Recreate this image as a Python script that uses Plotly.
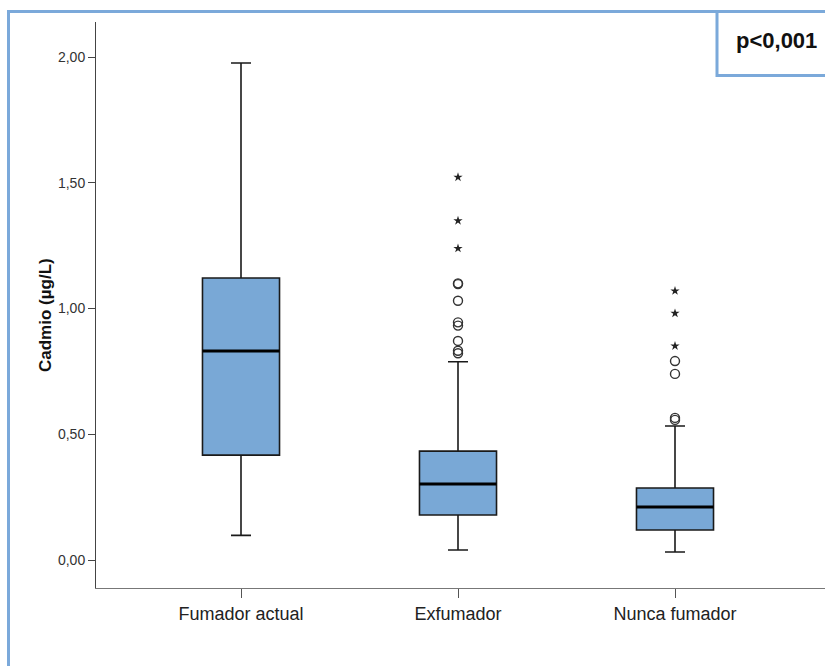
import plotly.graph_objects as go

# ---- data ----
categories = ["Fumador actual", "Exfumador", "Nunca fumador"]
q1 = [0.417, 0.179, 0.119]
median = [0.831, 0.302, 0.211]
q3 = [1.121, 0.433, 0.286]
lower_whisker = [0.098, 0.040, 0.032]
upper_whisker = [1.976, 0.788, 0.533]

circle_outliers = {
    "Exfumador": [1.100, 1.097, 1.031, 0.945, 0.932, 0.871, 0.832, 0.822],
    "Nunca fumador": [0.791, 0.740, 0.565, 0.557],
}
star_outliers = {
    "Exfumador": [1.522, 1.349, 1.239],
    "Nunca fumador": [1.070, 0.981, 0.851],
}
y_ticks = [0.0, 0.5, 1.0, 1.5, 2.0]
p_label = "p<0,001"
y_title = "Cadmio (µg/L)"

# ---- layout geometry ----
W, H = 825, 666
ML, MR, MT, MB = 96, 0, 22, 78
PW, PH = W - ML - MR, H - MT - MB
BOX_W = 0.355
FONT = "Liberation Sans, Arial, sans-serif"
BLUE = "#7ba9da"
FILL = "#79a8d6"


def px(xp):
    return (xp - ML) / PW


def py(yp):
    return (H - MB - yp) / PH


fig = go.Figure()
pos = {c: i for i, c in enumerate(categories)}

for i, c in enumerate(categories):
    fig.add_trace(go.Box(
        x=[i], q1=[q1[i]], median=[median[i]], q3=[q3[i]],
        lowerfence=[lower_whisker[i]], upperfence=[upper_whisker[i]],
        width=BOX_W, whiskerwidth=0.26, boxpoints=False,
        fillcolor=FILL, line=dict(color="#1a1a1a", width=1.6),
        showlegend=False, hoverinfo="skip",
    ))
    # thick median line
    fig.add_trace(go.Scatter(
        x=[i - BOX_W / 2, i + BOX_W / 2], y=[median[i], median[i]],
        mode="lines", line=dict(color="#000000", width=3),
        showlegend=False, hoverinfo="skip",
    ))

for c, vals in circle_outliers.items():
    fig.add_trace(go.Scatter(
        x=[pos[c]] * len(vals), y=vals, mode="markers",
        marker=dict(symbol="circle-open", size=9, color="#333333",
                    line=dict(width=1.4, color="#333333")),
        showlegend=False, hoverinfo="skip",
    ))
for c, vals in star_outliers.items():
    fig.add_trace(go.Scatter(
        x=[pos[c]] * len(vals), y=vals, mode="markers",
        marker=dict(symbol="star", size=7, color="#222222",
                    line=dict(width=0)),
        showlegend=False, hoverinfo="skip",
    ))

x0 = -(241 - ML) / 217
x1 = x0 + PW / 217
y0 = -(588 - 560) / 251.5
y1 = (560 - 22) / 251.5

fig.update_layout(
    width=W, height=H,
    margin=dict(l=ML, r=MR, t=MT, b=MB, pad=0),
    paper_bgcolor="white", plot_bgcolor="white",
    separators=",.",
    font=dict(family=FONT, color="#222222"),
    xaxis=dict(
        range=[x0, x1], tickvals=list(range(len(categories))),
        ticktext=categories, showgrid=False, zeroline=False,
        showline=True, linecolor="#777777", linewidth=1,
        ticks="outside", ticklen=9, tickcolor="#555555", tickwidth=1,
        tickfont=dict(size=18, color="#222222", family=FONT),
    ),
    yaxis=dict(
        range=[y0, y1], tickvals=y_ticks, tickformat=".2f",
        showgrid=False, zeroline=False,
        showline=True, linecolor="#444444", linewidth=1,
        ticks="outside", ticklen=7, tickcolor="#444444", tickwidth=1,
        tickfont=dict(size=14, color="#333333", family=FONT),
    ),
    shapes=[
        dict(type="rect", xref="paper", yref="paper",
             x0=px(8.5), x1=px(840), y0=py(11.5), y1=py(700),
             line=dict(color=BLUE, width=3), fillcolor="rgba(0,0,0,0)"),
        dict(type="rect", xref="paper", yref="paper",
             x0=px(717), x1=px(840), y0=py(11.5), y1=py(75.5),
             line=dict(color=BLUE, width=3), fillcolor="white"),
    ],
    annotations=[
        dict(text=f"<b>{y_title}</b>", xref="paper", yref="paper",
             x=px(45), y=py(315), textangle=-90, showarrow=False,
             xanchor="center", yanchor="middle",
             font=dict(size=17, color="#111111", family=FONT)),
        dict(text=f"<b>{p_label}</b>", xref="paper", yref="paper",
             x=px(776), y=py(40), showarrow=False,
             xanchor="center", yanchor="middle",
             font=dict(size=22, color="#111111", family=FONT)),
    ],
)

fig.write_html("out.html")
